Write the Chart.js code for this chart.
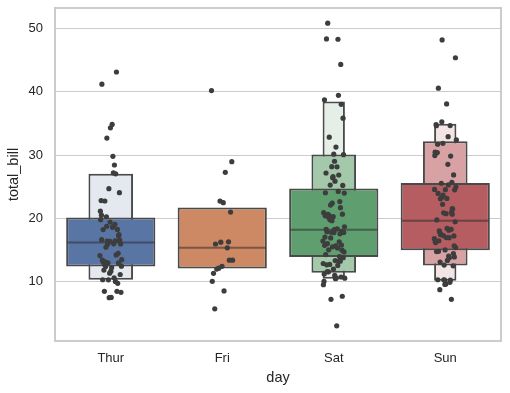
<!doctype html>
<html lang="en">
<head>
<meta charset="utf-8">
<title>Total bill by day</title>
<style>
  * { margin: 0; padding: 0; }
  body { background: #fff; }
</style>
</head>
<body>
<canvas id="myChart" width="510" height="393"></canvas>
<script src="https://cdn.jsdelivr.net/npm/chart.js/dist/chart.umd.min.js"></script>
<script>
// categories
const days = ['Thur', 'Fri', 'Sat', 'Sun'];
const yTicks = [10, 20, 30, 40, 50];

// total_bill per day (strip points)
const thurBills = [27.20, 22.76, 17.29, 19.44, 16.66, 10.07, 32.68, 15.98, 34.83, 13.03, 18.28, 24.71, 21.16,
  10.65, 12.43, 24.08, 11.69, 13.42, 14.26, 15.95, 12.48, 29.80, 8.52, 14.52, 11.38, 22.82, 19.08, 20.27,
  11.17, 12.26, 18.26, 8.51, 10.33, 14.15, 16.00, 13.16, 17.47, 34.30, 41.19, 27.05, 16.43, 8.35, 18.64,
  11.87, 9.78, 7.51, 19.81, 28.44, 15.48, 16.58, 7.56, 10.34, 43.11, 13.00, 13.51, 18.71, 12.74, 13.00,
  16.40, 20.53, 16.47, 18.78];
const friBills = [28.97, 22.49, 5.75, 16.32, 22.75, 40.17, 27.28, 12.03, 21.01, 12.46, 11.35, 15.38,
  12.16, 13.42, 8.58, 15.98, 13.42, 16.27, 10.09];
const satBills = [20.65, 17.92, 20.29, 15.77, 39.42, 19.82, 17.81, 13.37, 12.69, 21.70, 19.65, 9.55, 18.35,
  15.06, 20.69, 17.78, 24.06, 16.31, 16.93, 18.69, 31.27, 16.04, 38.01, 26.41, 11.24, 48.27, 20.29, 13.81,
  11.02, 18.29, 17.59, 20.08, 16.45, 3.07, 20.23, 15.01, 12.02, 17.07, 26.86, 25.28, 14.73, 10.51, 17.92,
  44.30, 22.42, 20.92, 15.36, 20.49, 25.21, 18.24, 14.31, 14.00, 7.25, 10.59, 10.63, 50.81, 15.81,
  26.59, 38.73, 24.27, 12.76, 30.06, 25.89, 48.33, 13.27, 28.17, 12.90, 28.15, 11.59, 7.74, 30.14,
  20.45, 13.28, 22.12, 24.01, 15.69, 11.61, 10.77, 15.53, 10.07, 12.60, 32.83, 35.83, 29.03, 27.18,
  22.67, 17.82];
const sunBills = [16.99, 10.34, 21.01, 23.68, 24.59, 25.29, 8.77, 26.88, 15.04, 14.78, 10.27, 35.26, 15.42,
  18.43, 14.83, 21.58, 10.33, 16.29, 16.97, 17.46, 13.94, 9.68, 30.40, 18.29, 22.23, 32.40, 28.55, 18.04,
  12.54, 10.29, 34.81, 9.94, 25.56, 19.49, 38.07, 23.95, 25.71, 17.31, 29.93, 14.07, 13.13, 17.26, 24.55,
  19.77, 29.85, 48.17, 25.00, 13.39, 16.49, 21.50, 12.66, 16.21, 13.81, 17.51, 24.52, 20.76, 31.71,
  7.25, 31.85, 16.82, 32.90, 17.89, 14.48, 9.60, 34.63, 34.65, 23.33, 45.35, 23.17, 40.55, 20.69, 20.90,
  30.46, 18.15, 23.10, 15.69];

// letter-value boxes (level 0 = quartiles, then eighths, sixteenths)
const medians = [16.20, 15.38, 18.24, 19.63];
const boxLow0 = [12.44, 12.10, 13.91, 14.99];
const boxHigh0 = [20.16, 21.75, 24.74, 25.60];
const boxLow1 = [10.35, null, 11.45, 12.59];
const boxHigh1 = [27.05, null, 30.10, 32.19];
const boxLow2 = [null, null, 10.50, 10.17];
const boxHigh2 = [null, null, 38.46, 34.95];

const clear = 'rgba(0,0,0,0)';
const level0Colors = ['#5975a4', '#cc8963', '#5f9e6e', '#b55d60'];
const level1Colors = ['#e4e9f0', clear, '#a4c9aa', '#d8a2a4'];
const level2Colors = [clear, clear, '#e6efe7', '#f3e4e5'];
const textColor = '#262626';

Chart.defaults.font.family = "'Liberation Sans', Arial, sans-serif";

function boxData(lows, highs) {
  return lows.map((lo, i) => ({ x: i, y: lo == null ? null : [lo, highs[i]] }));
}

// small even spread around each category centre (stripplot jitter, +-0.1)
function stripPoints(bills, dayIndex) {
  return bills.map((v, i) => ({
    x: dayIndex + ((((i + 1) * 0.618034 + dayIndex * 0.31) % 1) - 0.5) * 0.2,
    y: v
  }));
}

const stripData = [thurBills, friBills, satBills, sunBills]
  .flatMap((bills, d) => stripPoints(bills, d));

function boxDataset(lows, highs, colors, pct, order) {
  return {
    type: 'bar',
    data: boxData(lows, highs),
    backgroundColor: colors,
    borderColor: '#4a4a4a',
    borderWidth: 2,
    borderSkipped: false,
    barPercentage: pct,
    categoryPercentage: 1,
    grouped: false,
    order: order
  };
}

const frame = {
  id: 'frame',
  beforeDatasetsDraw(chart) {
    const { ctx, chartArea: { left, top, right, bottom } } = chart;
    ctx.save();
    ctx.strokeStyle = '#cccccc';
    ctx.lineWidth = 2;
    ctx.strokeRect(left, top, right - left, bottom - top);
    ctx.restore();
  }
};

const config = {
  type: 'bar',
  data: {
    datasets: [
      {
        type: 'scatter',
        data: stripData,
        backgroundColor: '#3d3d3d',
        borderWidth: 0,
        pointRadius: 2.6,
        order: 0
      },
      {
        type: 'scatter',
        data: medians.map((m, i) => ({ x: i, y: m })),
        pointStyle: 'line',
        pointRadius: 43.5,
        borderColor: 'rgba(38,38,38,0.5)',
        backgroundColor: 'rgba(38,38,38,0.5)',
        borderWidth: 2,
        order: 1
      },
      boxDataset(boxLow0, boxHigh0, level0Colors, 0.8, 2),
      boxDataset(boxLow1, boxHigh1, level1Colors, 0.4, 3),
      boxDataset(boxLow2, boxHigh2, level2Colors, 0.2, 4)
    ]
  },
  options: {
    responsive: false,
    animation: false,
    events: [],
    layout: { autoPadding: false, padding: { top: 8, right: 9, left: 0, bottom: 0 } },
    plugins: {
      legend: { display: false },
      tooltip: { enabled: false }
    },
    scales: {
      x: {
        type: 'linear',
        min: -0.5,
        max: 3.5,
        offset: false,
        afterBuildTicks(scale) { scale.ticks = days.map((d, i) => ({ value: i })); },
        grid: { display: false, drawTicks: false },
        border: { display: false },
        ticks: {
          color: textColor, font: { size: 13 }, padding: 10,
          callback: (v) => days[v]
        },
        title: {
          display: true, text: 'day', color: textColor,
          font: { size: 14.5 }, padding: { top: 0, bottom: 6 }
        },
        afterFit(scale) {
          scale.height = 52;
          scale.paddingLeft = 0;
          scale.paddingRight = 0;
        }
      },
      y: {
        type: 'linear',
        min: 0.68,
        max: 53.2,
        afterBuildTicks(scale) { scale.ticks = yTicks.map(v => ({ value: v })); },
        grid: { color: '#cccccc', lineWidth: 1, drawTicks: false },
        border: { display: false },
        ticks: { color: textColor, font: { size: 13 }, padding: 12 },
        title: {
          display: true, text: 'total_bill', color: textColor,
          font: { size: 14.5 }, padding: { top: 5, bottom: 0 }
        },
        afterFit(scale) {
          scale.width = 55;
          scale.paddingTop = 0;
          scale.paddingBottom = 0;
        }
      }
    }
  },
  plugins: [frame]
};

const myChart = new Chart(document.getElementById('myChart'), config);
</script>
</body>
</html>
